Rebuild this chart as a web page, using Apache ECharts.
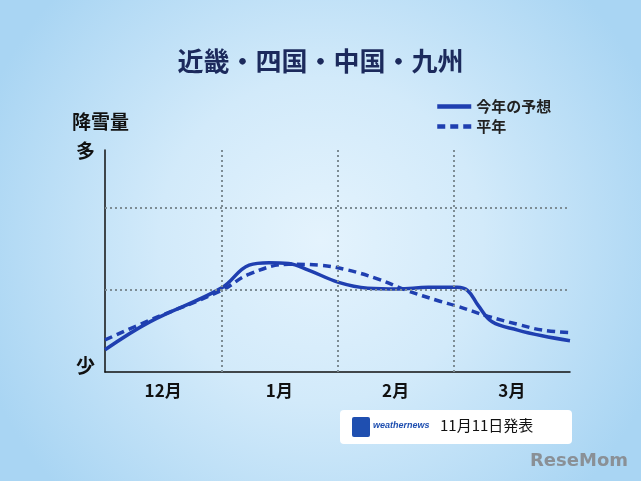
<!DOCTYPE html>
<html><head><meta charset="utf-8">
<script src="https://cdn.jsdelivr.net/npm/echarts@6/dist/echarts.min.js"></script>
<style>html,body{margin:0;padding:0}#ct{width:641px;height:481px}</style>
</head><body><div id="ct"></div>
<script>
// x in months from start of Dec, y in relative snowfall (grid lines at 1 and 2)
var monthLabels = ['12月', '1月', '2月', '3月'];
var forecastX = [0, 0.385, 1, 1.24, 1.41, 1.58, 1.75, 2.01, 2.26, 2.52, 2.78, 3.03, 3.12, 3.21, 3.33, 3.55, 3.76, 4];
var forecastY = [0.27, 0.61, 1.02, 1.30, 1.33, 1.32, 1.24, 1.09, 1.02, 1.01, 1.03, 1.03, 0.99, 0.81, 0.61, 0.51, 0.44, 0.38];
var normalX = [0, 0.385, 1, 1.24, 1.58, 1.84, 2.09, 2.35, 2.60, 2.86, 3.03, 3.29, 3.55, 3.76, 4];
var normalY = [0.39, 0.63, 0.99, 1.19, 1.31, 1.30, 1.24, 1.13, 0.99, 0.87, 0.80, 0.68, 0.58, 0.51, 0.48];

function pairs(xs, ys) {
	var out = [];
	for (var i = 0; i < xs.length; i++) out.push([xs[i], ys[i]]);
	return out;
}

var blue = '#1f3fb0';
var font = '"Noto Sans CJK JP", sans-serif';
var grid = { type: [2, 3], color: '#7d8c94', width: 2 };

var myChart = echarts.init(document.getElementById('ct'));
myChart.setOption({
	backgroundColor: new echarts.graphic.RadialGradient(0.5, 0.5, 0.75, [
		{ offset: 0, color: '#e4f3fd' },
		{ offset: 0.45, color: '#d2eafa' },
		{ offset: 1, color: '#a9d5f3' }
	]),
	animation: false,
	title: {
		text: '近畿・四国・中国・九州', left: 'center', top: 43,
		textStyle: { fontFamily: font, fontSize: 26, fontWeight: 'bold', color: '#1c2a5c' }
	},
	legend: {
		orient: 'vertical', left: 430, top: 94, itemGap: 5, itemWidth: 34, itemHeight: 14,
		itemStyle: { opacity: 0 },
		lineStyle: { width: 4.5 },
		textStyle: { fontFamily: font, fontSize: 15, fontWeight: 'bold', color: '#222' },
		data: ['今年の予想', '平年']
	},
	grid: { left: 105, right: 71, top: 150, bottom: 109 },
	xAxis: {
		type: 'value', min: 0, max: 4, interval: 0.5,
		axisLine: { lineStyle: { color: '#111', width: 1.5 } },
		axisTick: { show: false }, splitLine: { show: false },
		axisLabel: {
			margin: 10, fontFamily: font, fontSize: 17, fontWeight: 'bold', color: '#111',
			formatter: function (v) {
				var k = v - 0.5;
				return (Math.abs(k - Math.round(k)) < 1e-6 && k >= 0) ? monthLabels[Math.round(k)] : '';
			}
		}
	},
	yAxis: {
		type: 'value', min: 0, max: 2.7,
		axisLine: { show: true, lineStyle: { color: '#111', width: 1.5 } },
		axisTick: { show: false }, splitLine: { show: false }, axisLabel: { show: false }
	},
	graphic: [
		{ type: 'text', left: 72, top: 112, style: { text: '降雪量', font: 'bold 19px ' + font, fill: '#111' } },
		{ type: 'text', left: 76, top: 141, style: { text: '多', font: 'bold 19px ' + font, fill: '#111' } },
		{ type: 'text', left: 76, top: 356, style: { text: '少', font: 'bold 19px ' + font, fill: '#111' } },
		{ type: 'rect', left: 340, top: 410, shape: { width: 232, height: 34, r: 4 }, style: { fill: '#ffffff' } },
		{ type: 'rect', left: 352, top: 417, shape: { width: 18, height: 20, r: 2 }, style: { fill: '#1f4fb0' } },
		{ type: 'text', left: 373, top: 421, style: { text: 'weathernews', font: 'italic bold 9px sans-serif', fill: '#1f4fb0' } },
		{ type: 'text', left: 440, top: 418, style: { text: '11月11日発表', font: '15px ' + font, fill: '#111' } },
		{ type: 'text', left: 530, top: 452, style: { text: 'ReseMom', font: 'bold 18px "DejaVu Sans"', fill: '#8a9096' } }
	],
	series: [
		{
			name: '今年の予想', type: 'line', smooth: 0.4, symbol: 'none',
			data: pairs(forecastX, forecastY),
			lineStyle: { color: blue, width: 3.5 }, itemStyle: { color: blue },
			markLine: {
				silent: true, symbol: 'none', label: { show: false }, lineStyle: grid,
				data: [{ xAxis: 1 }, { xAxis: 2 }, { xAxis: 3 }, { yAxis: 1 }, { yAxis: 2 }]
			},
			z: 3
		},
		{
			name: '平年', type: 'line', smooth: 0.4, symbol: 'none',
			data: pairs(normalX, normalY),
			lineStyle: { color: blue, width: 3.5, type: [8, 5] }, itemStyle: { color: blue },
			z: 2
		}
	]
});
</script>
</body></html>
